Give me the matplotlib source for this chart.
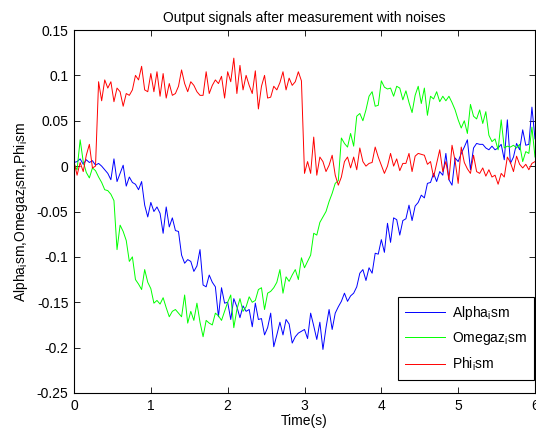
import numpy as np
import matplotlib
matplotlib.use("Agg")
import matplotlib.pyplot as plt

plt.rcParams['font.family'] = ['Liberation Sans', 'DejaVu Sans']
plt.rcParams['mathtext.default'] = 'regular'
plt.rcParams['axes.unicode_minus'] = False

# sample times (s), one sample every 0.04 s
time = np.round(np.arange(151) * 0.04, 2)

alpha_sm = [
    0.004, 0.005, 0.008, 0.002, 0.007, 0.004, 0.006, 0.001, 0.003, 0.000,
    -0.004, -0.008, -0.015, 0.008, -0.017, -0.008, 0.001, -0.022, -0.012, -0.018,
    -0.020, -0.026, -0.017, -0.043, -0.056, -0.040, -0.050, -0.045, -0.052, -0.074,
    -0.045, -0.067, -0.057, -0.071, -0.072, -0.098, -0.107, -0.103, -0.105, -0.116,
    -0.110, -0.092, -0.131, -0.133, -0.120, -0.128, -0.133, -0.166, -0.134, -0.151,
    -0.150, -0.169, -0.146, -0.155, -0.167, -0.154, -0.160, -0.158, -0.177, -0.151,
    -0.169, -0.168, -0.186, -0.178, -0.162, -0.199, -0.186, -0.172, -0.186, -0.169,
    -0.174, -0.195, -0.188, -0.184, -0.182, -0.180, -0.190, -0.162, -0.176, -0.191,
    -0.172, -0.202, -0.178, -0.158, -0.180, -0.162, -0.155, -0.149, -0.140, -0.149,
    -0.143, -0.140, -0.133, -0.118, -0.114, -0.126, -0.112, -0.118, -0.096, -0.097,
    -0.081, -0.095, -0.063, -0.084, -0.057, -0.059, -0.076, -0.060, -0.058, -0.043,
    -0.060, -0.044, -0.040, -0.032, -0.035, -0.019, -0.018, -0.008, -0.017, -0.006,
    -0.010, 0.014, -0.015, -0.021, 0.009, 0.005, 0.014, 0.021, 0.029, -0.004,
    0.020, 0.025, 0.024, 0.024, 0.020, 0.018, 0.022, 0.018, 0.020, 0.024,
    0.007, 0.051, 0.003, 0.010, 0.025, 0.018, 0.040, 0.023, 0.024, 0.065,
    0.030,
]

omegaz_sm = [
    0.002, -0.004, 0.029, 0.005, -0.007, -0.013, -0.002, -0.005, -0.012, -0.018,
    -0.026, -0.027, -0.031, -0.038, -0.092, -0.065, -0.072, -0.082, -0.105, -0.100,
    -0.125, -0.130, -0.136, -0.114, -0.128, -0.135, -0.151, -0.148, -0.152, -0.145,
    -0.156, -0.166, -0.160, -0.158, -0.162, -0.166, -0.142, -0.173, -0.160, -0.170,
    -0.151, -0.172, -0.188, -0.170, -0.173, -0.175, -0.162, -0.165, -0.170, -0.160,
    -0.150, -0.142, -0.178, -0.158, -0.146, -0.160, -0.155, -0.144, -0.150, -0.148,
    -0.136, -0.134, -0.158, -0.140, -0.138, -0.134, -0.128, -0.114, -0.140, -0.122,
    -0.127, -0.120, -0.114, -0.125, -0.101, -0.112, -0.105, -0.098, -0.074, -0.076,
    -0.062, -0.056, -0.050, -0.039, -0.030, -0.019, -0.016, 0.031, 0.025, 0.021,
    0.036, 0.022, 0.055, 0.058, 0.050, 0.062, 0.077, 0.082, 0.066, 0.067,
    0.094, 0.087, 0.085, 0.086, 0.077, 0.088, 0.086, 0.073, 0.083, 0.070,
    0.059, 0.078, 0.088, 0.069, 0.086, 0.056, 0.077, 0.074, 0.082, 0.071,
    0.077, 0.072, 0.077, 0.070, 0.062, 0.051, 0.042, 0.050, 0.036, 0.068,
    0.055, 0.052, 0.062, 0.047, 0.060, 0.034, 0.027, 0.030, 0.018, 0.051,
    0.020, 0.022, 0.021, 0.023, 0.020, 0.024, 0.005, 0.016, 0.014, 0.043,
    0.010,
]

phi_sm = [
    0.005, -0.010, 0.004, -0.006, 0.012, 0.024, -0.002, 0.000, 0.093, 0.072,
    0.095, 0.086, 0.093, 0.071, 0.086, 0.082, 0.066, 0.080, 0.078, 0.084,
    0.100, 0.095, 0.110, 0.084, 0.082, 0.102, 0.082, 0.104, 0.077, 0.102,
    0.075, 0.091, 0.078, 0.080, 0.088, 0.106, 0.091, 0.082, 0.093, 0.089,
    0.082, 0.078, 0.078, 0.104, 0.080, 0.089, 0.095, 0.091, 0.099, 0.075,
    0.104, 0.093, 0.119, 0.080, 0.111, 0.084, 0.100, 0.089, 0.080, 0.105,
    0.063, 0.088, 0.100, 0.075, 0.076, 0.088, 0.084, 0.092, 0.104, 0.084,
    0.097, 0.089, 0.093, 0.104, 0.094, -0.008, 0.005, -0.008, 0.032, -0.010,
    0.010, 0.005, -0.006, 0.001, 0.012, -0.010, -0.021, -0.012, 0.005, 0.010,
    -0.002, 0.010, -0.004, 0.020, 0.005, 0.000, 0.003, 0.004, 0.021, 0.010,
    0.001, -0.008, 0.000, 0.014, 0.000, 0.008, -0.005, 0.003, 0.003, 0.014,
    -0.006, 0.011, 0.014, 0.013, 0.012, 0.002, 0.005, -0.012, 0.003, 0.018,
    -0.006, 0.005, -0.015, 0.023, 0.006, -0.019, 0.021, 0.004, -0.003, -0.008,
    0.012, -0.006, -0.008, -0.002, -0.011, -0.004, -0.012, -0.010, -0.020, -0.008,
    -0.012, 0.010, 0.004, -0.006, 0.011, 0.002, -0.002, 0.002, -0.004, 0.003,
    0.005,
]

x_ticks = [0, 1, 2, 3, 4, 5, 6]
y_ticks = [-0.25, -0.2, -0.15, -0.1, -0.05, 0, 0.05, 0.1, 0.15]
y_tick_labels = ['-0.25', '-0.2', '-0.15', '-0.1', '-0.05', '0', '0.05', '0.1', '0.15']

fig = plt.figure(figsize=(5.36, 4.32), dpi=100)
ax = fig.add_axes([74/536, 1 - 393/432, 461/536, 363/432])

ax.plot(time, alpha_sm, color=(0, 0, 1), lw=0.7, label='Alpha$_i$sm')
ax.plot(time, omegaz_sm, color=(0, 1, 0), lw=0.7, label='Omegaz$_i$sm')
ax.plot(time, phi_sm, color=(1, 0, 0), lw=0.7, label='Phi$_i$sm')

ax.set_xlim(0, 6)
ax.set_ylim(-0.25, 0.15)
ax.set_xticks(x_ticks)
ax.set_xticklabels([str(v) for v in x_ticks])
ax.set_yticks(y_ticks)
ax.set_yticklabels(y_tick_labels)
ax.tick_params(direction='in', length=4, width=0.6, top=True, right=True,
               labelsize=10, pad=4)
for s in ax.spines.values():
    s.set_linewidth(0.8)

ax.set_title('Output signals after measurement with noises', fontsize=10, pad=6)
ax.set_xlabel('Time(s)', fontsize=10, labelpad=1)
ax.set_ylabel('Alpha$_i$sm,Omegaz$_i$sm,Phi$_i$sm', fontsize=10, labelpad=5)

leg = ax.legend(loc='lower right', bbox_to_anchor=(0.998, 0.036), borderaxespad=0,
                fontsize=10, fancybox=False, framealpha=1, edgecolor='black',
                handlelength=2.9, handletextpad=0.5, labelspacing=0.6,
                borderpad=0.5)
leg.get_frame().set_linewidth(0.8)

fig.savefig('out.png', dpi=100)
